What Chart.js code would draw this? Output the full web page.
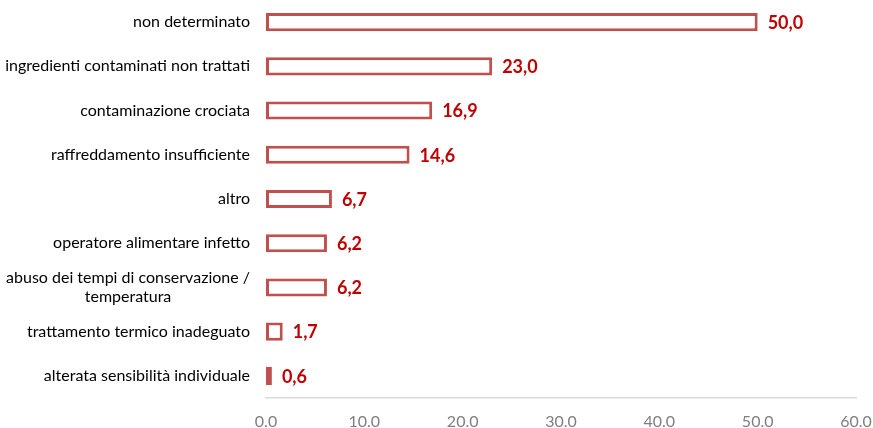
<!DOCTYPE html>
<html>
<head>
<meta charset="utf-8">
<script src="https://cdn.jsdelivr.net/npm/chart.js@4"></script>
<style>
  html, body { margin: 0; padding: 0; background: #fff; }
  #wrap { width: 873px; height: 428px; }
</style>
</head>
<body>
<div id="wrap"><canvas id="causeChart"></canvas></div>
<script>
const categories = [
  ["non determinato"],
  ["ingredienti contaminati non trattati"],
  ["contaminazione crociata"],
  ["raffreddamento insufficiente"],
  ["altro"],
  ["operatore alimentare infetto"],
  ["abuso dei tempi di conservazione /", "temperatura"],
  ["trattamento termico inadeguato"],
  ["alterata sensibilità individuale"]
];
const percentages = [50.0, 23.0, 16.9, 14.6, 6.7, 6.2, 6.2, 1.7, 0.6];
const xTicks = [0, 10, 20, 30, 40, 50, 60];

const labelFont = "16px Lato, 'Open Sans', sans-serif";

// category names: block right-aligned, lines centred on each other
const categoryLabels = {
  id: "categoryLabels",
  afterDraw(chart) {
    const ctx = chart.ctx;
    const y = chart.scales.y;
    ctx.save();
    ctx.font = labelFont;
    ctx.fillStyle = "#000";
    ctx.textBaseline = "middle";
    ctx.textAlign = "center";
    const right = chart.chartArea.left - 16;
    categories.forEach((lines, i) => {
      const cy = y.getPixelForValue(i);
      const w = Math.max(...lines.map(l => ctx.measureText(l).width));
      const cx = right - w / 2;
      const lh = 19;
      lines.forEach((l, j) => {
        ctx.fillText(l, cx, cy + (j - (lines.length - 1) / 2) * lh);
      });
    });
    ctx.restore();
  }
};

// value at the end of each bar, comma decimal
const valueLabels = {
  id: "valueLabels",
  afterDatasetsDraw(chart) {
    const ctx = chart.ctx;
    ctx.save();
    ctx.font = "bold 18px Lato, 'Open Sans', sans-serif";
    ctx.fillStyle = "#C00000";
    ctx.textBaseline = "middle";
    ctx.textAlign = "left";
    chart.getDatasetMeta(0).data.forEach((bar, i) => {
      ctx.fillText(percentages[i].toFixed(1).replace(".", ","), bar.x + 10, bar.y + 1);
    });
    ctx.restore();
  }
};

new Chart(document.getElementById("causeChart"), {
  type: "bar",
  data: {
    labels: categories.map(c => c.join(" ")),
    datasets: [{
      data: percentages,
      backgroundColor: "#fff",
      borderColor: "#C0504D",
      borderWidth: 3,
      borderSkipped: false,
      categoryPercentage: 1,
      barPercentage: 0.41
    }]
  },
  options: {
    indexAxis: "y",
    responsive: true,
    maintainAspectRatio: false,
    animation: false,
    layout: { padding: { left: 0, right: 17, top: 0, bottom: 0 } },
    plugins: { legend: { display: false }, tooltip: { enabled: false } },
    scales: {
      x: {
        min: 0,
        max: 60,
        afterBuildTicks: axis => { axis.ticks = xTicks.map(v => ({ value: v })); },
        grid: { display: false, drawTicks: false },
        border: { display: true, color: "#D9D9D9", width: 1.5 },
        ticks: {
          padding: 14,
          color: "#7F7F7F",
          font: { family: "Lato, 'Open Sans', sans-serif", size: 16 },
          callback: v => v.toFixed(1)
        },
        afterFit: axis => {
          axis.height = 30;
          axis.paddingLeft = 0;
          axis.paddingRight = 0;
        }
      },
      y: {
        grid: { display: false, drawTicks: false },
        border: { display: false },
        ticks: { display: false },
        afterFit: axis => { axis.width = 266; }
      }
    }
  },
  plugins: [categoryLabels, valueLabels]
});
</script>
</body>
</html>
